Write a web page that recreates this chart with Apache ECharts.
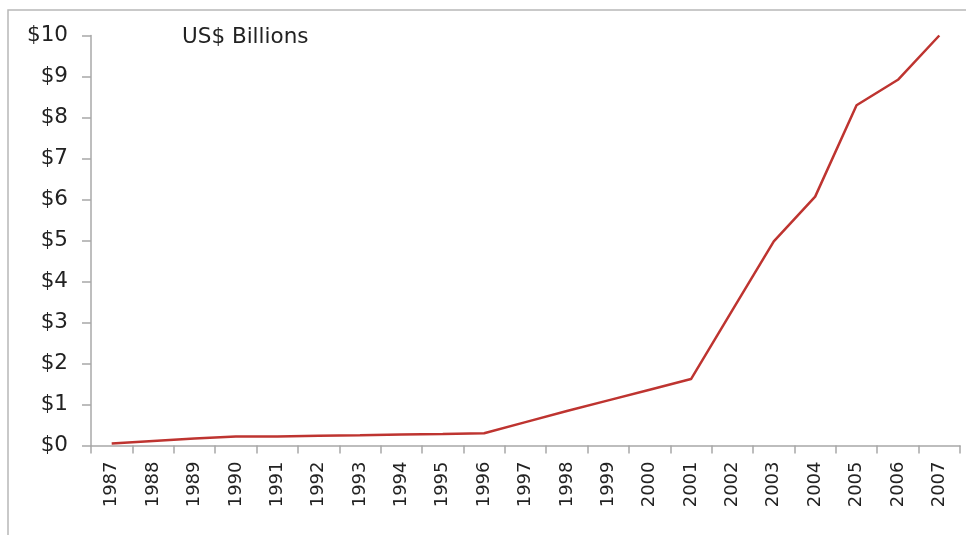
<!DOCTYPE html>
<html><head><meta charset="utf-8">
<script src="https://cdn.jsdelivr.net/npm/echarts@6/dist/echarts.min.js"></script>
<style>html,body{margin:0;padding:0;background:#fff}#c{width:966px;height:535px}</style>
</head><body><div id="c"></div>
<script>
const years = ['1987','1988','1989','1990','1991','1992','1993','1994','1995','1996','1997','1998','1999','2000','2001','2002','2003','2004','2005','2006','2007'];
const values = [0.05,0.11,0.17,0.22,0.22,0.24,0.25,0.27,0.28,0.30,0.57,0.84,1.10,1.36,1.62,3.3,4.98,6.07,8.3,8.92,10.0];
const yTicks = {min:0, max:10, interval:1};
const unitLabel = 'US$ Billions';

const chart = echarts.init(document.getElementById('c'));
chart.setOption({
  animation:false,
  graphic:[{type:'rect',shape:{x:8,y:10,width:1000,height:600},style:{fill:'none',stroke:'#b8b8b8',lineWidth:1.5},silent:true}],
  title:{text:unitLabel,left:182,top:26,padding:0,textStyle:{fontFamily:'DejaVu Sans',fontSize:21.5,fontWeight:'normal',color:'#222'}},
  grid:{left:91,right:6,top:35.5,bottom:89.5},
  xAxis:{type:'category',data:years,boundaryGap:true,
    axisLine:{lineStyle:{color:'#a8a8a8',width:1.5}},
    axisTick:{show:true,length:8,lineStyle:{color:'#a8a8a8',width:1.5}},
    axisLabel:{rotate:90,interval:0,margin:16,fontFamily:'DejaVu Sans',fontSize:18,color:'#222'}},
  yAxis:{type:'value',min:yTicks.min,max:yTicks.max,interval:yTicks.interval,
    axisLine:{show:true,lineStyle:{color:'#a8a8a8',width:1.5}},
    axisTick:{show:true,length:9,lineStyle:{color:'#a8a8a8',width:1.5}},
    splitLine:{show:false},
    axisLabel:{margin:23,fontFamily:'DejaVu Sans',fontSize:21.5,color:'#222',formatter:v=>'$'+v}},
  series:[{type:'line',data:values,symbol:'none',lineStyle:{color:'#BE3430',width:2.5}}]
});
</script></body></html>
